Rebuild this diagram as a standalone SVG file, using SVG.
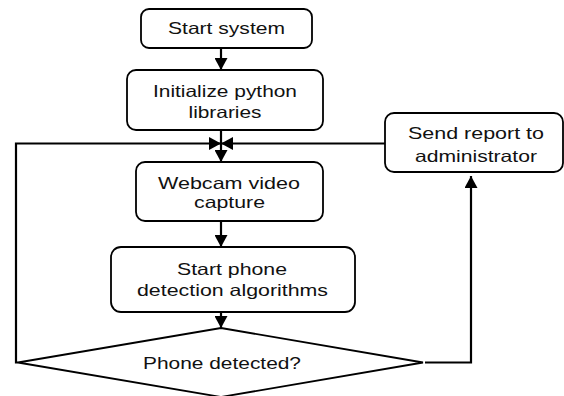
<svg xmlns="http://www.w3.org/2000/svg" width="564" height="396" viewBox="0 0 564 396">
  <defs>
    <marker id="arrow" markerUnits="userSpaceOnUse" markerWidth="14" markerHeight="13" refX="12" refY="6.5" orient="auto">
      <path d="M0,0 L12,6.5 L0,13 Z" fill="#000"/>
    </marker>
    <style>
      .box { fill: #fff; stroke: #000; stroke-width: 1.8; }
      .edge { fill: none; stroke: #000; stroke-width: 2.2; marker-end: url(#arrow); }
      text { font-family: "Liberation Sans", Arial, sans-serif; font-size: 16.5px; fill: #111; text-anchor: middle; }
    </style>
  </defs>
  <rect width="564" height="396" fill="#fff"/>

  <g id="connectors">
    <path class="edge" d="M221,48 L221,70"/>
    <path class="edge" d="M221,130 L221,162"/>
    <path class="edge" d="M221,221 L221,247"/>
    <path class="edge" d="M221,312 L221,328"/>
    <path class="edge" d="M18,362.5 L16,362.5 L16,143.5 L221,143.5"/>
    <path class="edge" d="M385,143.5 L221,143.5"/>
    <path class="edge" d="M425,362.5 L471,362.5 L471,176"/>
  </g>

  <g id="start">
    <rect class="box" x="141" y="9" width="171" height="39" rx="8"/>
    <text x="226.5" y="34" textLength="117" lengthAdjust="spacingAndGlyphs">Start system</text>
  </g>

  <g id="init">
    <rect class="box" x="127" y="70" width="196" height="60" rx="9"/>
    <text x="225" y="97" textLength="144" lengthAdjust="spacingAndGlyphs">Initialize python</text>
    <text x="225" y="118" textLength="73" lengthAdjust="spacingAndGlyphs">libraries</text>
  </g>

  <g id="capture">
    <rect class="box" x="136" y="162" width="187" height="59" rx="9"/>
    <text x="229" y="189" textLength="142" lengthAdjust="spacingAndGlyphs">Webcam video</text>
    <text x="229.5" y="208" textLength="71" lengthAdjust="spacingAndGlyphs">capture</text>
  </g>

  <g id="detect">
    <rect class="box" x="111" y="247" width="244" height="65" rx="10"/>
    <text x="232" y="275" textLength="110" lengthAdjust="spacingAndGlyphs">Start phone</text>
    <text x="232.5" y="296" textLength="191" lengthAdjust="spacingAndGlyphs">detection algorithms</text>
  </g>

  <g id="decision">
    <polygon class="box" points="221,328 423,362.5 221,397 18,362.5"/>
    <text x="222" y="369" textLength="158" lengthAdjust="spacingAndGlyphs">Phone detected?</text>
  </g>

  <g id="report">
    <rect class="box" x="385" y="113" width="178" height="59" rx="9"/>
    <text x="476" y="139" textLength="136" lengthAdjust="spacingAndGlyphs">Send report to</text>
    <text x="476" y="161.5" textLength="122" lengthAdjust="spacingAndGlyphs">administrator</text>
  </g>
</svg>
